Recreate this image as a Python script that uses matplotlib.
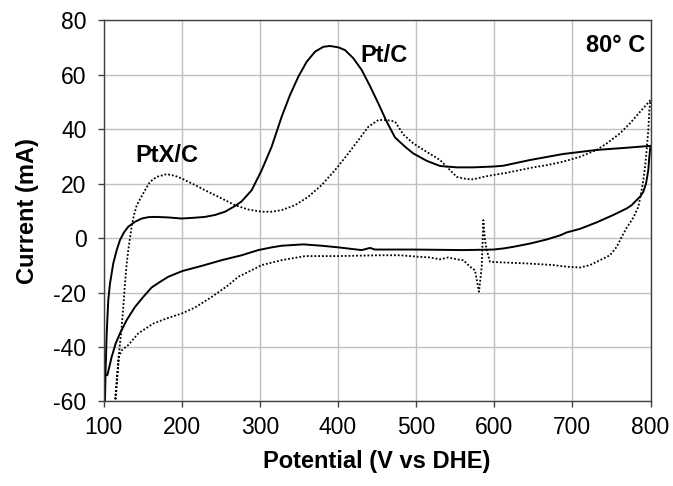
import matplotlib
matplotlib.use("Agg")
import matplotlib.pyplot as plt

plt.rcParams['font.family'] = ['Liberation Sans', 'DejaVu Sans']
plt.rcParams['axes.unicode_minus'] = False

# Pt/C (solid) - anodic sweep (100 -> 800 mV)
ptc_anodic_x = [101.5, 101.9, 102.8, 104.1, 106.1, 108.3, 112.5, 116.9, 121.1, 126.2, 131.7,
                140.3, 148.9, 157.4, 165.9, 182.9, 200, 217.1, 229.9, 242.7, 255.5, 268.3,
                276.8, 289.6, 302.5, 315.2, 328, 338.7, 349.3, 360, 370.7, 381.3, 389.9,
                400.5, 409, 419.7, 430.4, 441, 451.7, 462.4, 473, 485.8, 496.5, 513.6,
                530.7, 552, 573, 598.8, 611.6, 645.8, 688, 731, 773.8, 800]
ptc_anodic_y = [-62, -59.6, -47.3, -35, -22.8, -16.7, -9.3, -4.4, -0.7, 2.1, 4.2,
                6.0, 7.2, 7.7, 7.8, 7.6, 7.2, 7.5, 7.8, 8.5, 9.7, 11.8,
                13.5, 17.6, 25, 33.6, 44.6, 52.6, 59.3, 64.8, 68.5, 70.3, 70.6,
                70.1, 69.1, 66.1, 61.8, 55.9, 49.5, 42.8, 37, 33.6, 31.1, 28.4,
                26.5, 26, 26, 26.3, 26.6, 28.7, 30.9, 32.4, 33.3, 33.9]
# Pt/C (solid) - cathodic sweep (800 -> 100 mV)
ptc_cathodic_x = [800, 798.5, 797.2, 794.3, 790.8, 786.6, 782.3, 775.9, 769.5, 752.4, 731.2,
                  709.8, 692.8, 684.2, 667.2, 645.8, 624.5, 611.7, 598.9, 560.5, 530,
                  496.5, 473, 447.5, 441, 430.4, 400.5, 379.2, 355.7, 328, 315.2, 298.1,
                  276.8, 251.3, 225.7, 200.9, 182.9, 172.3, 161.7, 150.9, 140.3, 129.7,
                  121.1, 115.6, 110.5, 104.9]
ptc_cathodic_y = [33.9, 29.9, 25, 20.1, 17, 15.2, 14, 12.1, 10.9, 8.5, 5.8,
                  3.4, 2.1, 1.0, -0.5, -2.0, -3.2, -3.8, -4.2, -4.4, -4.3,
                  -4.2, -4.2, -4.2, -3.6, -4.4, -3.4, -2.8, -2.3, -2.8, -3.4, -4.4,
                  -6.3, -8.1, -10.2, -12.1, -14.2, -16.1, -18.1, -21.6, -25.3, -30.1,
                  -35, -38.7, -43.6, -50.4]

# PtX/C (dotted) - anodic sweep
ptx_anodic_x = [113.5, 114.7, 116.9, 118.9, 121.1, 123.3, 125.3, 127.5, 129.7, 131.7, 133.9,
                136.1, 139, 142.5, 148, 153.1, 159.5, 168.1, 180.9, 191.5, 200.1, 217.1,
                229.9, 246.9, 268.3, 285.3, 302.5, 315.2, 328, 345.1, 362.1, 379.2, 396.3,
                413.3, 426.1, 438.9, 451.7, 462.4, 473, 484, 496.5, 513.6, 530.7, 543.4,
                552, 564.8, 573.3, 586.1, 598.9, 616, 633, 650, 667.2, 688.4, 709.8,
                731.2, 744, 761, 773.8, 786.6, 800]
ptx_anodic_y = [-62, -59.6, -52.2, -44.9, -38.7, -32.6, -25.3, -16.7, -9.3, -4.4, 0,
                4.5, 8.5, 12, 15, 17.6, 20.7, 22.5, 23.5, 22.9, 21.9, 19.5,
                17.6, 15.2, 12.1, 10.5, 9.7, 9.7, 10.3, 12.1, 15.2, 19.5, 25,
                31.1, 36, 40.9, 43.4, 43.4, 42.8, 38, 34.8, 31.7, 28.7, 25,
                22.5, 21.7, 21.6, 22.5, 23.2, 24, 25, 26, 26.8, 28.1, 29.9,
                32.4, 34.8, 38.5, 42.2, 46.4, 50.7]
# PtX/C (dotted) - cathodic sweep
ptx_cathodic_x = [800, 798.5, 797.2, 795.1, 793, 790.8, 787.9, 784.4, 778, 769.5, 763.2,
                  756.8, 748.2, 735.4, 722.6, 709.8, 692.8, 675.6, 658.6, 641.6, 624.5,
                  607.4, 594.6, 590.4, 588.2, 586.1, 584, 580.5, 575.4, 569, 560.5, 552,
                  541.3, 530.7, 517.8, 505, 479.4, 453.8, 400.5, 357.9, 328, 302.5, 289.6,
                  272.5, 259.8, 238.5, 217.1, 200.1, 180.9, 163.7, 144.5, 131.7, 123.3,
                  119.8, 118.1, 115.6, 115]
ptx_cathodic_y = [50.7, 47, 39.7, 32.4, 26.2, 21.3, 16.4, 11.5, 7.5, 3.8, 0.5,
                  -3.2, -6.3, -8.1, -9.9, -10.8, -10.5, -9.9, -9.6, -9.3, -9.1,
                  -8.9, -8.7, -4.4, -0.7, 6.6, -10.5, -19.7, -11.8, -10.5, -8.1, -7.8,
                  -7.1, -7.8, -7.1, -6.9, -6.3, -6.3, -6.6, -6.6, -8.1, -9.9, -11.8,
                  -14.2, -17.3, -21.6, -25.5, -27.7, -29.5, -31.4, -35, -39.3, -41.2,
                  -43.6, -49.7, -59.6, -62]

x_ticks = [100, 200, 300, 400, 500, 600, 700, 800]
y_ticks = [-60, -40, -20, 0, 20, 40, 60, 80]

fig = plt.figure(figsize=(6.73, 4.86), dpi=100)
ax = fig.add_axes([103.5/673, 1 - 401.4/486, (650.5-103.5)/673, (401.4-20.4)/486])

ax.plot(ptc_anodic_x + ptc_cathodic_x, ptc_anodic_y + ptc_cathodic_y,
        color='black', lw=1.4, solid_joinstyle='round', solid_capstyle='round')
ax.plot(ptx_anodic_x + ptx_cathodic_x, ptx_anodic_y + ptx_cathodic_y,
        color='black', lw=1.3, linestyle=(0, (1, 1.1)))

ax.set_xlim(100, 800)
ax.set_ylim(-60, 80)
ax.set_xticks(x_ticks)
ax.set_yticks(y_ticks)
ax.grid(True, color='#c0c0c0', lw=1.0)
ax.set_axisbelow(True)
for s in ax.spines.values():
    s.set_color('#404040')
    s.set_linewidth(1.0)
ax.tick_params(axis='both', direction='out', length=4.3, width=1.0, color='#404040',
               labelsize=16.5)
ax.tick_params(axis='y', pad=8)
ax.tick_params(axis='x', pad=6)

ax.set_xlabel('Potential (V vs DHE)', fontsize=17, fontweight='bold', labelpad=8)
ax.set_ylabel('Current (mA)', fontsize=17, fontweight='bold', labelpad=10)

ax.text(428.3, 64.7, 'Pt/C', fontsize=17, fontweight='bold', ha='left', va='baseline')
ax.text(140.3, 28.0, 'PtX/C', fontsize=17, fontweight='bold', ha='left', va='baseline')
ax.text(793, 68.4, '80° C', fontsize=17, fontweight='bold', ha='right', va='baseline')

fig.savefig('out.png', dpi=100)
